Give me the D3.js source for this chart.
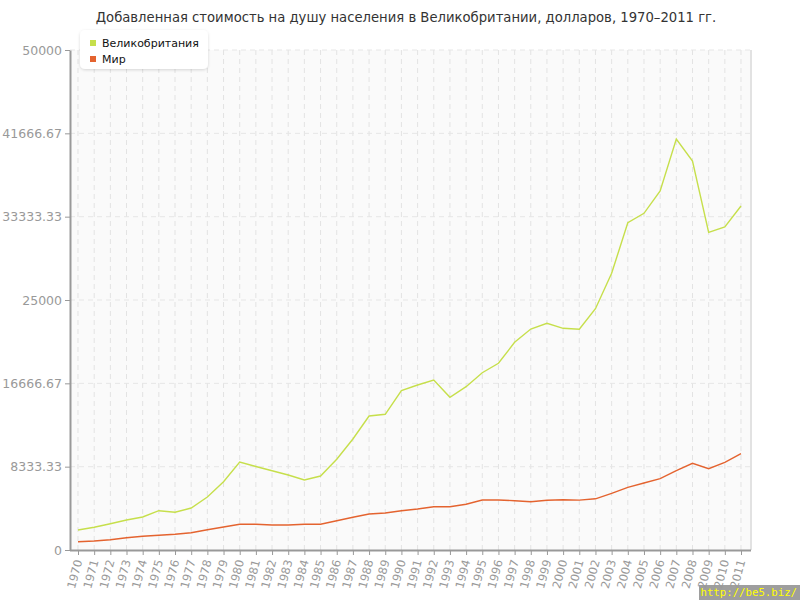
<!DOCTYPE html>
<html><head><meta charset="utf-8">
<script src="https://cdn.jsdelivr.net/npm/d3@7"></script>
<style>
body{margin:0;background:#fff;}
svg{display:block;font-family:"DejaVu Sans",Verdana,sans-serif;}
</style></head>
<body><svg id="c" width="800" height="600"></svg>
<script>
const title = "Добавленная стоимость на душу населения в Великобритании, долларов, 1970–2011 гг.";
const years = d3.range(1970, 2012);
const seriesNames = ["Великобритания", "Мир"];
const seriesColors = ["#c6df4b", "#e4632f"];
const ukValues = [2000,2270,2630,3000,3300,3930,3770,4200,5300,6830,8800,8350,7930,7500,7000,7400,9070,11100,13400,13570,15930,16500,17000,15270,16330,17730,18670,20770,22100,22670,22170,22070,24130,27670,32730,33670,35900,41100,38900,31770,32300,34400];
const worldValues = [830,900,1030,1230,1370,1470,1570,1730,2030,2300,2570,2570,2500,2500,2570,2570,2930,3270,3600,3700,3930,4100,4330,4330,4570,5000,5000,4930,4830,4970,5030,4990,5120,5670,6270,6700,7130,7930,8670,8130,8770,9630];
const yTicks = [0, 8333.33, 16666.67, 25000, 33333.33, 41666.67, 50000];
const yTickLabels = ["0", "8333.33", "16666.67", "25000", "33333.33", "41666.67", "50000"];

(function(){
const svg = d3.select("#c");
const pL = 70, pR = 751, pT = 50, pB = 550;
const x = d3.scalePoint().domain(years).range([78, 741]);
const y = d3.scaleLinear().domain([0, 50000]).range([pB, pT]);

// title
svg.append("text").attr("x", 406).attr("y", 22).attr("text-anchor", "middle")
  .attr("font-size", 13.2).attr("fill", "#333").text(title);

// plot background
svg.append("rect").attr("x", pL).attr("y", pT).attr("width", pR - pL).attr("height", pB - pT)
  .attr("fill", "#fafafa");
svg.append("line").attr("x1", pR).attr("x2", pR).attr("y1", pT).attr("y2", pB)
  .attr("stroke", "#e2e2e2").attr("stroke-width", 2);

// grid
svg.append("g").selectAll("line").data(years).join("line")
  .attr("x1", d => x(d)).attr("x2", d => x(d)).attr("y1", pT).attr("y2", pB)
  .attr("stroke", "#e3e3e3").attr("stroke-dasharray", "5,4");
svg.append("g").selectAll("line").data(yTicks.slice(1)).join("line")
  .attr("x1", pL).attr("x2", pR).attr("y1", d => y(d)).attr("y2", d => y(d))
  .attr("stroke", "#e6e6e6").attr("stroke-dasharray", "5,4");

// watermark box
svg.append("rect").attr("x", 699).attr("y", 585).attr("width", 101).attr("height", 15).attr("fill", "#9e9e9e");

// y axis
const yAxis = d3.axisLeft(y).tickValues(yTicks).tickFormat((d, i) => yTickLabels[i]).tickSize(5).tickSizeOuter(0);
const gy = svg.append("g").attr("transform", `translate(${pL},0)`).call(yAxis);
gy.select(".domain").attr("stroke", "#999").attr("stroke-width", 2);
gy.selectAll(".tick line").attr("stroke", "#999");
gy.selectAll(".tick text").attr("fill", "#999").attr("font-size", 12.5).attr("x", -8)
  .attr("font-family", "DejaVu Sans");

// x axis
const xAxis = d3.axisBottom(x).tickSize(5).tickSizeOuter(0);
const gx = svg.append("g").attr("transform", `translate(0,${pB})`).call(xAxis);
gx.select(".domain").attr("stroke", "#999").attr("stroke-width", 2).attr("d", `M${pL},0.5H${pR}`);
gx.selectAll(".tick line").attr("stroke", "#999");
gx.selectAll(".tick text").attr("fill", "#999").attr("font-size", 11.5).attr("font-family", "DejaVu Sans")
  .attr("text-anchor", "end").attr("dy", "0.35em")
  .attr("transform", "translate(0,10) rotate(-75)").attr("x", 0).attr("y", 0);

// lines
const line = d3.line().x((d, i) => x(years[i])).y(d => y(d));
[ukValues, worldValues].forEach((vals, k) => {
  svg.append("path").datum(vals).attr("d", line).attr("fill", "none")
    .attr("stroke", seriesColors[k]).attr("stroke-width", 1.4);
});

// legend
const defs = svg.append("defs");
const f = defs.append("filter").attr("id", "sh").attr("x", "-20%").attr("y", "-20%").attr("width", "140%").attr("height", "160%");
f.append("feDropShadow").attr("dx", 0).attr("dy", 1).attr("stdDeviation", 1.5).attr("flood-color", "#000").attr("flood-opacity", 0.15);
svg.append("rect").attr("x", 80).attr("y", 30).attr("width", 128).attr("height", 39).attr("rx", 5)
  .attr("fill", "#fff").attr("filter", "url(#sh)");
seriesNames.forEach((n, i) => {
  svg.append("rect").attr("x", 90).attr("y", 40 + i * 16).attr("width", 6).attr("height", 6).attr("fill", seriesColors[i]);
  svg.append("text").attr("x", 102).attr("y", 47 + i * 16).attr("font-size", 11).attr("fill", "#111").text(n);
});

// watermark text
svg.append("text").attr("x", 700.5).attr("y", 595.5).attr("font-size", 10.7).attr("fill", "#ffff00")
  .attr("font-family", "DejaVu Sans Mono, monospace").text("http://be5.biz/");
})();
</script></body></html>
